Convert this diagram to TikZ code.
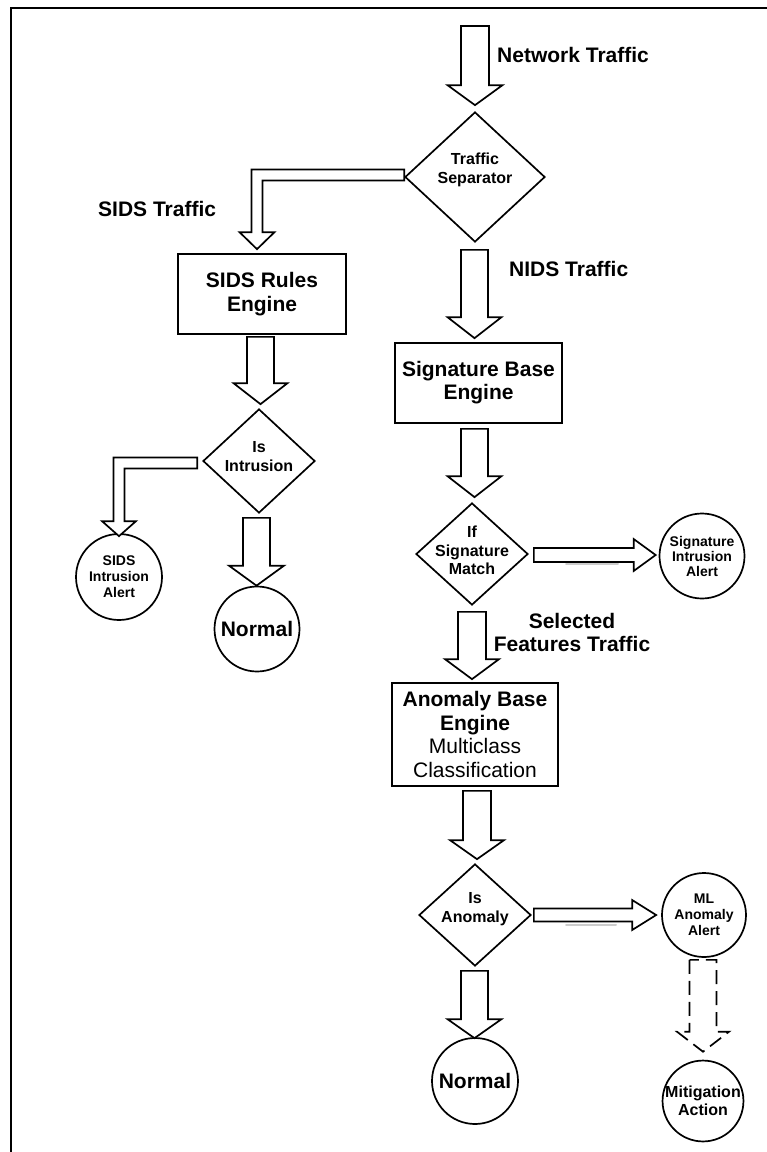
\documentclass[tikz,border=0pt]{standalone}
\usepackage{fontspec}
\setmainfont{Liberation Sans}
\usetikzlibrary{shapes.geometric,calc}

% block arrow pointing down: [style]{start}{tip}{shaft half width}{head half width}{head length}
\newcommand\blkdown[6][]{%
  \draw[blk,#1] let \p1=(#2), \p2=(#3) in
    (\x2-#4,\y1) -- (\x2-#4,\y2+#6) -- (\x2-#5,\y2+#6) -- (\x2,\y2)
    -- (\x2+#5,\y2+#6) -- (\x2+#4,\y2+#6) -- (\x2+#4,\y1) -- cycle;}
% block arrow pointing right
\newcommand\blkright[6][]{%
  \draw[blk,#1] let \p1=(#2), \p2=(#3) in
    (\x1,\y2+#4) -- (\x2-#6,\y2+#4) -- (\x2-#6,\y2+#5) -- (\x2,\y2)
    -- (\x2-#6,\y2-#5) -- (\x2-#6,\y2-#4) -- (\x1,\y2-#4) -- cycle;}
% block arrow going left, then bending down
\newcommand\blkbent[6][]{%
  \draw[blk,#1] let \p1=(#2), \p2=(#3) in
    (\x1,\y1+#4) -- (\x2-#4,\y1+#4) -- (\x2-#4,\y2+#6) -- (\x2-#5,\y2+#6) -- (\x2,\y2)
    -- (\x2+#5,\y2+#6) -- (\x2+#4,\y2+#6) -- (\x2+#4,\y1-#4) -- (\x1,\y1-#4) -- cycle;}

\begin{document}
\begin{tikzpicture}[x=1pt,y=-1pt,line join=miter,
  outl/.style={draw=black,line width=1.7pt},
  blk/.style={outl,fill=white},
  procbox/.style={outl,rectangle,inner sep=0pt,align=center,
    font=\bfseries\fontsize{21}{23}\selectfont},
  decision/.style={outl,diamond,inner sep=0pt},
  dtext/.style={font=\bfseries\fontsize{16}{18.5}\selectfont,align=center,inner sep=0pt},
  endpt/.style={outl,circle,inner sep=0pt,align=center,
    font=\bfseries\fontsize{14}{16}\selectfont},
  flowlbl/.style={font=\bfseries\fontsize{21}{23}\selectfont,inner sep=0pt,align=center},
]
\useasboundingbox (0,0) rectangle (767,1152);
\fill[white] (0,0) rectangle (767,1152);

% page frame
\draw[line width=2pt] (11,1152) -- (11,8) -- (767,8);

% ---- nodes ----
\node[decision,minimum width=140pt,minimum height=130pt,
  label={[dtext,yshift=7pt]center:{Traffic\\Separator}}] (sep) at (475,177) {};
\node[procbox,minimum width=168pt,minimum height=80pt,
  font=\bfseries\fontsize{21}{24}\selectfont] (sids) at (262,294) {SIDS Rules\\Engine};
\node[procbox,minimum width=167pt,minimum height=80pt] (sigb) at (478.5,383) {Signature Base\\Engine};
\node[decision,minimum width=112pt,minimum height=104pt,
  label={[dtext,yshift=4.5pt]center:{Is\\Intrusion}}] (isint) at (259,461) {};
\node[endpt,minimum size=86pt] (sidsalert) at (119,577) {SIDS\\Intrusion\\Alert};
\node[endpt,minimum size=85pt,font=\bfseries\fontsize{21}{23}\selectfont] (normal1) at (257,629) {Normal};
\node[decision,minimum width=112pt,minimum height=102pt,
  label={[dtext,yshift=3.5pt]center:{If\\Signature\\Match}}] (sigm) at (472,554) {};
\node[endpt,minimum size=85pt,font=\bfseries\fontsize{14}{15}\selectfont] (sigalert) at (702,556) {Signature\\Intrusion\\Alert};
\node[procbox,minimum width=166pt,minimum height=103pt,
  font=\fontsize{21}{23.5}\selectfont] (anob) at (475,734.5)
  {\textbf{Anomaly Base}\\\textbf{Engine}\\Multiclass\\Classification};
\node[decision,minimum width=112pt,minimum height=102pt,
  label={[dtext,yshift=6pt]center:{Is\\Anomaly}}] (isano) at (475,915) {};
\node[endpt,minimum size=84pt,font=\bfseries\fontsize{14}{16}\selectfont] (mlalert) at (704,915) {ML\\Anomaly\\Alert};
\node[endpt,minimum size=86pt,font=\bfseries\fontsize{21}{23}\selectfont] (normal2) at (475,1081) {Normal};
\node[endpt,minimum size=80pt,font=\bfseries\fontsize{16}{18}\selectfont] (mitig) at (703,1101) {Mitigation\\Action};

% ---- flow labels ----
\node[flowlbl,anchor=west] (lnet) at (497,55) {Network Traffic};
\node[flowlbl,anchor=west] (lsids) at (98,209) {SIDS Traffic};
\node[flowlbl,anchor=west] (lnids) at (509,269) {NIDS Traffic};
\node[flowlbl] (lsel) at (572,632.5) {Selected\\Features Traffic};

% ---- connector end points ----
\coordinate (intop) at (474.5,26);

% ---- block arrows ----
\blkdown{intop}{$(sep.north)+(0,-6)$}{14pt}{27.5pt}{20pt}
\blkbent{$(sep.west)+(0,-2)$}{$(sids.north)+(-5,-4)$}{5.5pt}{17.5pt}{17pt}
\blkdown{$(sep.south)+(0,7)$}{$(sigb.north)+(-4,-4)$}{13.5pt}{27pt}{21pt}
\blkdown{$(sids.south)+(0,2)$}{$(isint.north)+(1.5,-4)$}{13.5pt}{27pt}{21pt}
\blkbent{$(isint.west)+(-5,2)$}{$(sidsalert.north)+(0,3)$}{5.5pt}{17pt}{15pt}
\blkdown{$(isint.south)+(0,4)$}{$(normal1.north)+(-0.5,0)$}{13.5pt}{27.5pt}{20pt}
\blkdown{$(sigb.south)+(0,5)$}{$(sigm.north)+(2.5,-5)$}{13.5pt}{27pt}{21pt}

% faint marks under the side arrows
\draw[gray!40,line width=2pt,line cap=round] (566,563.5) -- (618,563.5);
\draw[gray!40,line width=2pt,line cap=round] (566,924.5) -- (616,924.5);

\blkright{$(sigm.east)+(5,0)$}{$(sigalert.west)+(-3,-1)$}{7pt}{16pt}{22pt}
\blkdown{$(sigm.south)+(0,6)$}{$(anob.north)+(-3,-3)$}{14pt}{27pt}{20pt}
\blkdown{$(anob.south)+(0,4)$}{$(isano.north)+(2,-4)$}{14pt}{27pt}{19pt}
\blkright{$(isano.east)+(2,0)$}{$(mlalert.west)+(-5,0)$}{6.5pt}{15pt}{24pt}
\blkdown{$(isano.south)+(0,4)$}{$(normal2.north)+(-0.5,1)$}{13.5pt}{27pt}{19pt}
\blkdown[dash pattern=on 14pt off 7pt]{$(mlalert.south)+(0,2)$}{$(mitig.north)+(0,-8)$}{13.5pt}{26pt}{20pt}

\end{tikzpicture}
\end{document}
